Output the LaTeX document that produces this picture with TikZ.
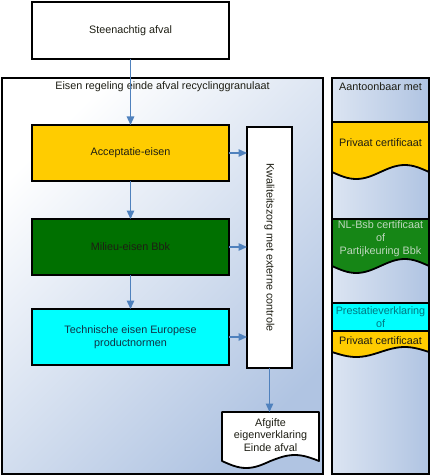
\documentclass[tikz,border=0pt]{standalone}
\usepackage{fontspec}
\setmainfont{Liberation Sans}
\usetikzlibrary{arrows.meta}
\definecolor{panelblue}{RGB}{176,196,226}
\definecolor{accyellow}{RGB}{255,204,0}
\definecolor{leftgreen}{RGB}{0,112,0}
\definecolor{rightgreen}{RGB}{22,134,22}
\definecolor{aqua}{RGB}{0,255,255}
\definecolor{arrowblue}{RGB}{79,129,189}
\definecolor{darktext}{RGB}{30,30,20}
\definecolor{tealtext}{RGB}{0,120,130}
\definecolor{greentext}{RGB}{190,215,190}
\definecolor{techtext}{RGB}{15,50,70}
\begin{document}
\begin{tikzpicture}[x=1pt,y=-1pt,
  every node/.style={font=\fontsize{10.8}{12.8}\selectfont, text=darktext, align=center, inner sep=0pt, outer sep=0pt},
  box/.style={draw=black, line width=1.8pt},
  panel/.style={draw=black, line width=1.8pt, top color=white, bottom color=panelblue, shading angle=45},
  rpanel/.style={draw=black, line width=1.8pt, left color=white!55!panelblue, right color=panelblue},
  docline/.style={draw=black, line width=1.8pt, line join=round},
  arr/.style={draw=arrowblue, line width=1.3pt, -{Triangle[length=8.5pt,width=7.5pt]}}
]
\useasboundingbox (0,0) rectangle (431,476);

% containers
\node[panel, minimum width=321pt, minimum height=396pt] (leftpanel) at (162.5,276) {};
\node[rpanel, minimum width=97pt, minimum height=396pt] (rightpanel) at (380.5,276) {};
\node (lefttitle) at (162.5,87) {Eisen regeling einde afval recyclinggranulaat};
\node (righttitle) at (380.5,87) {Aantoonbaar met};

% left column boxes
\node[box, fill=white, minimum width=197pt, minimum height=57pt] (top) at (130.5,30.5) {Steenachtig afval};
\node[box, fill=accyellow, minimum width=197pt, minimum height=56pt] (acc) at (130.5,153) {Acceptatie-eisen};
\node[box, fill=leftgreen, minimum width=197pt, minimum height=56pt] (mil) at (130.5,247) {Milieu-eisen Bbk};
\node[box, fill=aqua, minimum width=197pt, minimum height=56pt, text=techtext] (tech) at (130.5,337) {Technische eisen Europese\\productnormen};
\node[box, fill=white, minimum width=45pt, minimum height=241pt] (kw) at (269.5,247.5) {};
\node[rotate=-90] (kwtext) at (kw.center) {Kwaliteitszorg met externe controle};

% output document
\node[minimum width=97pt, minimum height=51pt] (afg) at (270.5,437.5) {};
\draw[docline, fill=white] (afg.north west) -- (afg.north east) -- (319,461)
  sin (294.75,455) cos (270.5,461) sin (246.25,468) cos (222,461) -- cycle;
\node (afgtext) at (270.5,435) {Afgifte\\eigenverklaring\\Einde afval};

% right column documents
\draw[docline, fill=accyellow] (332,122) -- (429,122) -- (429,172)
  sin (404.75,165) cos (380.5,172) sin (356.25,179) cos (332,172) -- cycle;
\node (priv1) at (380.5,143) {Privaat certificaat};

\draw[docline, fill=rightgreen] (332,219) -- (429,219) -- (429,266)
  sin (404.75,259) cos (380.5,266) sin (356.25,273) cos (332,266) -- cycle;
\node[text=greentext] (nlbsb) at (380.5,239) {NL-Bsb certificaat\\of\\Partijkeuring Bbk};

\node[box, fill=aqua, minimum width=97pt, minimum height=28pt] (prest) at (380.5,317) {};
\node[text=tealtext] (presttext) at (380.5,317.5) {Prestatieverklaring\\of};
\draw[docline, fill=accyellow] (332,331) -- (429,331) -- (429,352)
  sin (404.75,347) cos (380.5,352) sin (356.25,357) cos (332,352) -- cycle;
\node (priv2) at (380.5,341) {Privaat certificaat};

% connectors
\draw[arr] (top.south) -- (acc.north);
\draw[arr] (acc.south) -- (mil.north);
\draw[arr] (mil.south) -- (tech.north);
\draw[arr] (acc.east) -- (acc.east -| kw.west);
\draw[arr] (mil.east) -- (mil.east -| kw.west);
\draw[arr] (tech.east) -- (tech.east -| kw.west);
\draw[arr] (kw.south) -- (kw.south |- afg.north);
\end{tikzpicture}
\end{document}
